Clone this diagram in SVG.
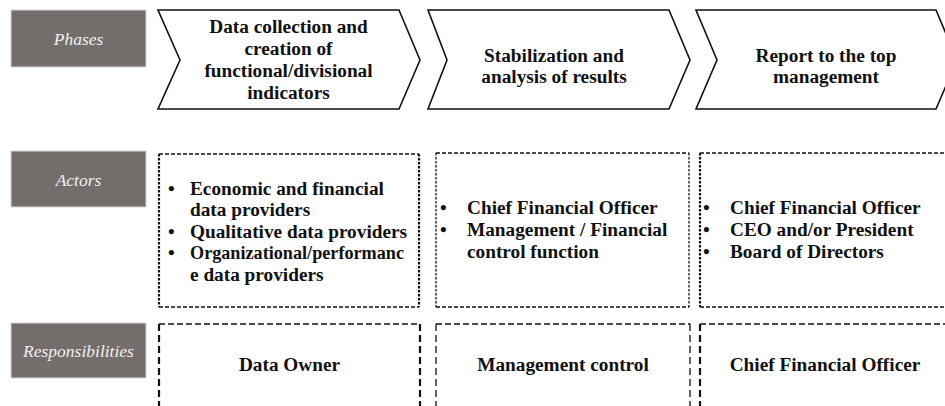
<svg xmlns="http://www.w3.org/2000/svg" width="945" height="406" viewBox="0 0 945 406">
<style>
.lab{fill:#736e6c;stroke:#d8d6d5;stroke-width:1}
.labt{font-family:"Liberation Serif","Times New Roman",serif;font-style:italic;font-size:17.5px;fill:#f2f0ee;text-anchor:middle}
.chev{fill:#fff;stroke:#111;stroke-width:1.6;stroke-linejoin:miter}
.t{font-family:"Liberation Serif","Times New Roman",serif;font-weight:bold;font-size:19.3px;fill:#111}
.c{text-anchor:middle}
.dh{fill:none;stroke:#111;stroke-width:1.3;stroke-dasharray:4 2}
.dv{fill:none;stroke:#111;stroke-width:2.2;stroke-dasharray:2.5 1.5}
.dvt{fill:none;stroke:#111;stroke-width:1.3;stroke-dasharray:2.5 1.5}
.rh{fill:none;stroke:#111;stroke-width:1.5;stroke-dasharray:6 3}
.rv{fill:none;stroke:#111;stroke-width:2.2;stroke-dasharray:7 4}
.rvt{fill:none;stroke:#111;stroke-width:1.3;stroke-dasharray:7 4}
</style>

<g id="label-phases">
<rect class="lab" x="11" y="10" width="135" height="57"/>
<text class="labt" x="78.5" y="45">Phases</text>
</g>
<g id="label-actors">
<rect class="lab" x="11" y="151" width="135" height="56"/>
<text class="labt" x="78.5" y="186">Actors</text>
</g>
<g id="label-responsibilities">
<rect class="lab" x="11" y="323" width="135" height="55"/>
<text class="labt" x="78.5" y="357">Responsibilities</text>
</g>

<g id="phase1">
<path class="chev" d="M158,10 L399,10 L420,60 L399,109 L158,109 L180,60 Z"/>
<text class="t c" x="288.5" y="33">Data collection and</text>
<text class="t c" x="288.5" y="55">creation of</text>
<text class="t c" x="288.5" y="77">functional/divisional</text>
<text class="t c" x="288.5" y="99">indicators</text>
</g>
<g id="phase2">
<path class="chev" d="M428,10 L669,10 L690,60 L669,109 L428,109 L447,60 Z"/>
<text class="t c" x="554" y="62">Stabilization and</text>
<text class="t c" x="554" y="83">analysis of results</text>
</g>
<g id="phase3">
<path class="chev" d="M696,10 L936,10 L957,60 L936,109 L696,109 L717,60 Z"/>
<text class="t c" x="826" y="62">Report to the top</text>
<text class="t c" x="826" y="83">management</text>
</g>

<g id="actors1">
<path class="dh" d="M159,154 H419 M159,307 H419"/>
<path class="dv" d="M159,154 V307 M419,154 V307"/>
<text class="t" x="168" y="194.5">•</text>
<text class="t" x="190" y="194.5">Economic and financial</text>
<text class="t" x="190" y="216">data providers</text>
<text class="t" x="168" y="237.5">•</text>
<text class="t" x="190" y="237.5">Qualitative data providers</text>
<text class="t" x="168" y="259">•</text>
<text class="t" x="190" y="259" textLength="214" lengthAdjust="spacingAndGlyphs">Organizational/performanc</text>
<text class="t" x="190" y="280.5">e data providers</text>
</g>
<g id="actors2">
<path class="dh" d="M436,153 H689 M436,307 H689"/>
<path class="dvt" d="M436,153 V307 M689,153 V307"/>
<text class="t" x="440" y="214">•</text>
<text class="t" x="467" y="214">Chief Financial Officer</text>
<text class="t" x="440" y="236">•</text>
<text class="t" x="467" y="236">Management / Financial</text>
<text class="t" x="467" y="258">control function</text>
</g>
<g id="actors3">
<path class="dh" d="M700,153 H945 M700,307 H945"/>
<path class="dv" d="M700,153 V307"/>
<text class="t" x="703" y="214">•</text>
<text class="t" x="730" y="214">Chief Financial Officer</text>
<text class="t" x="703" y="236">•</text>
<text class="t" x="730" y="236">CEO and/or President</text>
<text class="t" x="703" y="258">•</text>
<text class="t" x="730" y="258">Board of Directors</text>
</g>

<g id="resp1">
<path class="rh" d="M159,324 H420"/>
<path class="rv" d="M159,324 V406 M420,324 V406"/>
<text class="t c" x="289.5" y="371">Data Owner</text>
</g>
<g id="resp2">
<path class="rh" d="M436,324 H690"/>
<path class="rvt" d="M436,324 V406 M690,324 V406"/>
<text class="t c" x="563" y="371">Management control</text>
</g>
<g id="resp3">
<path class="rh" d="M700,324 H945"/>
<path class="rv" d="M700,324 V406"/>
<text class="t c" x="825" y="371">Chief Financial Officer</text>
</g>

<g id="connectors"></g>
</svg>
